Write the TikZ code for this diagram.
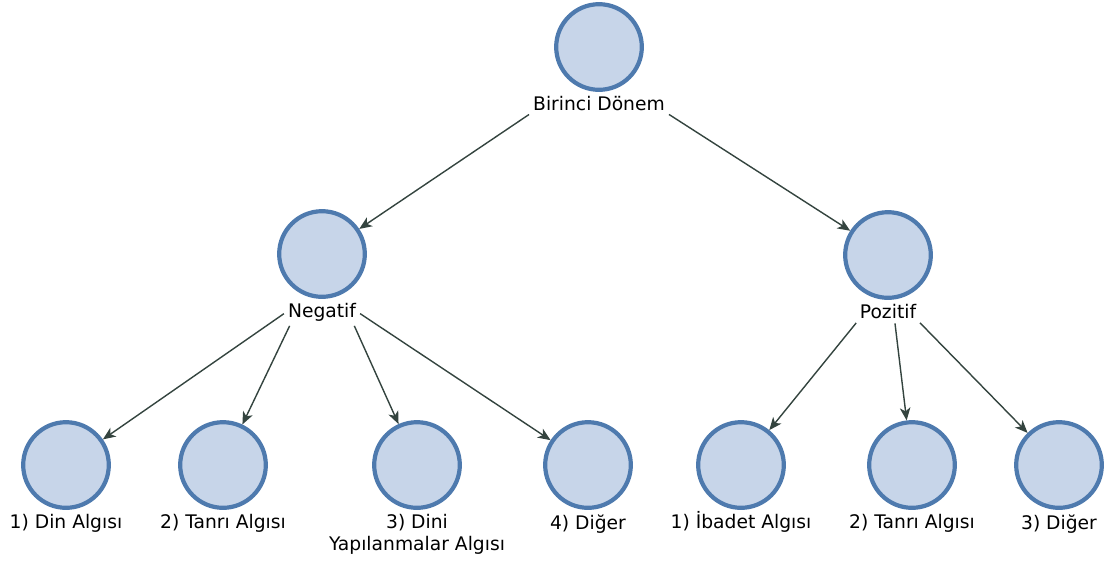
\documentclass[tikz,border=0pt]{standalone}
\usepackage{fontspec}
\setmainfont{DejaVu Sans}
\usetikzlibrary{positioning,arrows.meta}
\definecolor{ringblue}{HTML}{4E7AAE}
\definecolor{fillblue}{HTML}{C7D5E9}
\definecolor{arrowgray}{HTML}{34443F}

\begin{document}
\begin{tikzpicture}[x=0.025cm,y=-0.025cm]

        \useasboundingbox (0,0) rectangle (1113,562);

        \begin{scope}[every node/.style={circle,draw=ringblue,fill=fillblue,line width=3pt,minimum size=2.14cm,inner sep=0pt}]
          \node (bir)   at (599,47)   {};
          \node (neg)   at (322,254)  {};
          \node (poz)   at (888,255)  {};
          \node (din)   at (66,465)   {};
          \node (tanN)  at (223,465)  {};
          \node (dini)  at (417,465)  {};
          \node (digN)  at (588,465)  {};
          \node (ibd)   at (741,465)  {};
          \node (tanP)  at (912,465)  {};
          \node (digP)  at (1059,465) {};
        \end{scope}

        \begin{scope}[node distance=1.5pt, every node/.style={font=\fontsize{13.3}{15.6}\selectfont,inner sep=1.5pt,align=center}]
          \node[below=of bir]  (birL)  {Birinci Dönem};
          \node[below=of neg]  (negL)  {Negatif};
          \node[below=of poz]  (pozL)  {Pozitif};
          \node[below=of din]  (dinL)  {1) Din Algısı};
          \node[below=of tanN] (tanNL) {2) Tanrı Algısı};
          \node[below=of dini] (diniL) {3) Dini\\Yapılanmalar Algısı};
          \node[below=of digN] (digNL) {4) Diğer};
          \node[below=of ibd,text height=10.1pt] (ibdL) {1) İbadet Algısı};
          \node[below=of tanP] (tanPL) {2) Tanrı Algısı};
          \node[below=of digP] (digPL) {3) Diğer};
        \end{scope}

        \begin{scope}[every edge/.style={draw=arrowgray,line width=1pt,shorten <=1.5pt,-{Stealth[length=9pt,width=7.5pt,inset=2.5pt]}}]
          \path (birL.south west) edge (neg);
          \path (birL.south east) edge (poz);
          \path (negL.west)       edge (din);
          \path (negL.200)        edge (tanN);
          \path (negL.340)        edge (dini);
          \path (negL.east)       edge (digN);
          \path (pozL.south west) edge (ibd);
          \path (pozL.305)        edge (tanP);
          \path (pozL.south east) edge (digP);
        \end{scope}

      \end{tikzpicture}
\end{document}
